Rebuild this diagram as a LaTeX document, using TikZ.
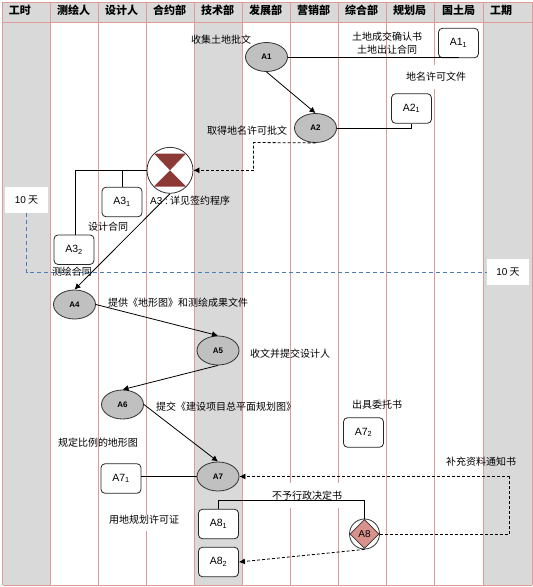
\documentclass[tikz,border=0pt]{standalone}
\usepackage{fontspec}
\setmainfont{Noto Sans CJK SC}
\newfontfamily\latinf{Liberation Sans}
\usetikzlibrary{arrows.meta,shapes.geometric}
\definecolor{gridc}{HTML}{DF9A9A}
\definecolor{bandc}{HTML}{D9D9D9}
\definecolor{ovalc}{HTML}{C0C0C0}
\definecolor{sandc}{HTML}{8B3A36}
\definecolor{diac}{HTML}{D9918C}
\definecolor{bluec}{HTML}{4A7EBB}
\tikzset{
  x=1pt,y=-1pt,
  lane/.style={draw=gridc,line width=1pt},
  hdr/.style={font=\fontsize{11}{13}\selectfont\bfseries,inner sep=0pt},
  oval/.style={ellipse,draw=black!80,fill=ovalc,line width=.8pt,minimum width=42pt,minimum height=29pt,inner sep=0pt,font=\fontsize{8}{9}\selectfont\latinf\bfseries},
  docbox/.style={rectangle,rounded corners=4pt,draw=black!85,fill=white,line width=.8pt,minimum width=40pt,minimum height=29.5pt,inner sep=0pt,font=\fontsize{10.5}{12}\selectfont\latinf},
  lbl/.style={inner sep=0pt,font=\fontsize{10}{12}\selectfont},
  daybox/.style={fill=white,inner sep=0pt,font=\fontsize{10}{12}\selectfont},
  conn/.style={draw=black,line width=.8pt},
  arr/.style={conn,-{Latex[length=6pt,width=6pt]}},
  dashline/.style={dash pattern=on 3pt off 2pt},
  darr/.style={arr,dashline},
  dconn/.style={conn,dashline},
}
\begin{document}
\begin{tikzpicture}
\useasboundingbox (0,0) rectangle (533,587);
\fill[white] (0,0) rectangle (533,587);
\fill[bandc] (2.5,2) rectangle (532,22.5);
\fill[bandc] (2.5,22.5) rectangle (50.5,585);
\fill[bandc] (194.5,22.5) rectangle (242.5,585);
\fill[bandc] (483.5,22.5) rectangle (532,585);
\foreach \x in {2.5,50.5,98.5,146.5,194.5,242.5,290.5,338.5,386.5,434.5,483.5,532}
  \draw[lane] (\x,2) -- (\x,585);
\draw[lane] (2.5,2) -- (532,2);
\draw[lane] (2.5,22.5) -- (532,22.5);
\draw[lane] (2.5,585) -- (532,585);
\foreach \x/\t in {20/工时,73.5/测绘人,121.5/设计人,169.5/合约部,217.5/技术部,265.5/发展部,313.5/营销部,361.5/综合部,409.5/规划局,458.5/国土局,501/工期}
  \node[hdr] at (\x,10) {\t};
% white label patches
\fill[white] (412,65) rectangle (460,89);
\fill[white] (262,483) rectangle (346,508);
\fill[white] (125,515) rectangle (168,531);
% day markers
\node[daybox,minimum width=43pt,minimum height=25.5pt] (d1) at (26.5,200) {{\latinf 10} 天};
\node[daybox,minimum width=42.5pt,minimum height=25.5pt] (d2) at (508,272) {{\latinf 10} 天};
\draw[bluec,dash pattern=on 4pt off 3pt,line width=.8pt] (d1.south) |- (d2.west);
% nodes
\node[oval] (A1) at (266.5,57) {\raisebox{-1pt}{A1}};
\node[oval] (A2) at (315.5,128) {\raisebox{-1pt}{A2}};
\node[circle,draw=black!80,fill=white,line width=.8pt,minimum size=46pt,inner sep=0pt] (A3) at (170,170.3) {};
\fill[sandc] (A3.center) -- (154,153.5) -- (186,153.5) -- cycle;
\fill[sandc] (A3.center) -- (154,186.5) -- (186,186.5) -- cycle;
\node[oval] (A4) at (74.5,304.5) {\raisebox{-1pt}{A4}};
\node[oval] (A5) at (218,350.5) {\raisebox{-1pt}{A5}};
\node[oval] (A6) at (122.5,404.5) {\raisebox{-1pt}{A6}};
\node[oval] (A7) at (218,476.5) {\raisebox{-1pt}{A7}};
\node[circle,draw=black!80,fill=white,line width=.8pt,minimum size=30pt,inner sep=0pt] (A8c) at (364.5,534) {};
\node[diamond,draw=black!80,fill=diac,line width=.8pt,minimum width=29pt,minimum height=29pt,inner sep=0pt,font=\fontsize{10}{11}\selectfont\latinf] (A8) at (364.5,534) {A8};
\node[docbox] (A11) at (458.5,43) {A1\textsubscript{1}};
\node[docbox] (A21) at (411.5,108.5) {A2\textsubscript{1}};
\node[docbox] (A31) at (122,202) {A3\textsubscript{1}};
\node[docbox] (A32) at (74,249.7) {A3\textsubscript{2}};
\node[docbox] (A71) at (121,478.5) {A7\textsubscript{1}};
\node[docbox] (A72) at (363.5,432.5) {A7\textsubscript{2}};
\node[docbox] (A81) at (218.5,524) {A8\textsubscript{1}};
\node[docbox] (A82) at (218.5,562) {A8\textsubscript{2}};
% connectors
\coordinate (j1) at (75,170.3);
\coordinate (j2) at (A31.north|-A3.west);
\draw[conn] (A1.east) -- (A1.east-|A11.south);
\draw[conn] (A2.east) -| (A21.south);
\draw[arr] (A1.south) -- (A2.north);
\coordinate (k1) at (253.5,142.5);
\coordinate (k2) at (253.5,170.3);
\draw[dconn] (A2.south) -- (k1) -- (k2);
\draw[darr] (k2) -- (A3.east);
\draw[conn] (A3.west) -- (j1) -- (A32.north-|j1);
\draw[conn] (j2) -- (A31.north);
\draw[arr] (A3.south) -- (A4.north);
\draw[arr] (A4.east) -- (A5.north);
\draw[arr] (A5.south) -- (A6.north);
\draw[arr] (A6.east) -- (A7.north);
\draw[conn] (A7.west) -- (A7.west-|A71.east);
\coordinate (m1) at (364.5,500.3);
\coordinate (m2) at (218.5,500.3);
\draw[conn] (A8c.north) -- (m1) -- (m2) -- (A81.north);
\draw[darr] (A8c.south) -- (A82.east);
\coordinate (n1) at (509.5,534);
\coordinate (n2) at (509.5,476.5);
\draw[dconn] (A8c.east) -- (n1) -- (n2);
\draw[darr] (n2) -- (A7.east);
% labels
\node[lbl] at (221,40) {收集土地批文};
\node[lbl] at (387,36.7) {土地成交确认书};
\node[lbl] at (387,49.5) {土地出让合同};
\node[lbl] at (436,77) {地名许可文件};
\node[lbl] at (247,131) {取得地名许可批文};
\node[lbl,anchor=west] at (150,201) {\makebox[20pt][l]{\latinf A3 :}详见签约程序};
\node[lbl] at (108,227) {设计合同};
\node[lbl] at (72,271.5) {测绘合同};
\node[lbl,anchor=west] at (108,302.5) {提供《地形图》和测绘成果文件};
\node[lbl,anchor=west] at (250,354) {收文并提交设计人};
\node[lbl,anchor=west] at (156,407) {提交《建设项目总平面规划图》};
\node[lbl] at (377,405) {出具委托书};
\node[lbl] at (98,443) {规定比例的地形图};
\node[lbl] at (144,520) {用地规划许可证};
\node[lbl] at (481,461.5) {补充资料通知书};
\node[lbl] at (307,496) {不予行政决定书};
\end{tikzpicture}
\end{document}
